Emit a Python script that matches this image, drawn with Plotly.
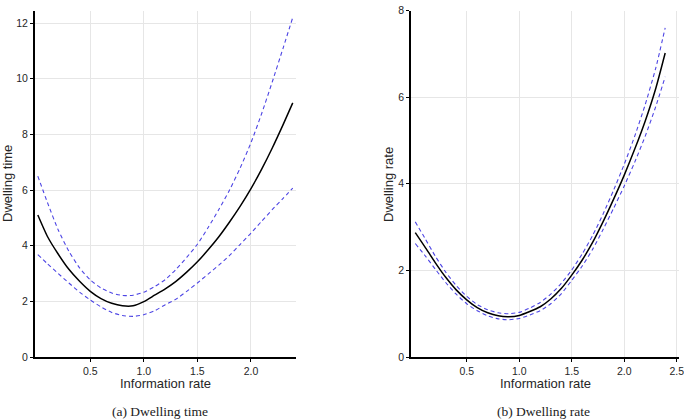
import plotly.graph_objects as go

# ---------------- data ----------------
x_rate = [0.01, 0.1, 0.2, 0.3, 0.4, 0.5, 0.6, 0.7, 0.8, 0.9, 1.0, 1.1, 1.2,
          1.3, 1.4, 1.5, 1.6, 1.7, 1.8, 1.9, 2.0, 2.1, 2.2, 2.3, 2.39]

time_est = [5.10, 4.33, 3.70, 3.15, 2.72, 2.36, 2.10, 1.93, 1.84, 1.84, 1.99,
            2.22, 2.45, 2.72, 3.05, 3.42, 3.85, 4.32, 4.85, 5.42, 6.05, 6.75,
            7.52, 8.35, 9.13]
time_upper = [6.50, 5.55, 4.57, 3.80, 3.20, 2.77, 2.48, 2.30, 2.21, 2.22, 2.33,
              2.53, 2.78, 3.15, 3.58, 4.05, 4.65, 5.30, 6.00, 6.80, 7.70, 8.75,
              9.90, 11.10, 12.20]
time_lower = [3.68, 3.35, 3.00, 2.66, 2.33, 2.05, 1.80, 1.60, 1.49, 1.46, 1.52,
              1.66, 1.88, 2.08, 2.36, 2.66, 2.98, 3.30, 3.65, 4.05, 4.45, 4.88,
              5.30, 5.70, 6.07]

rate_est = [2.87, 2.55, 2.18, 1.84, 1.55, 1.32, 1.14, 1.02, 0.95, 0.93, 0.96,
            1.05, 1.16, 1.34, 1.58, 1.89, 2.24, 2.65, 3.13, 3.65, 4.20, 4.80,
            5.45, 6.20, 7.02]
rate_upper = [3.12, 2.75, 2.33, 1.96, 1.65, 1.40, 1.21, 1.09, 1.02, 1.00, 1.03,
              1.13, 1.26, 1.45, 1.70, 2.01, 2.38, 2.81, 3.31, 3.86, 4.45, 5.10,
              5.83, 6.67, 7.60]
rate_lower = [2.62, 2.35, 2.03, 1.72, 1.45, 1.23, 1.07, 0.95, 0.88, 0.86, 0.89,
              0.97, 1.07, 1.23, 1.46, 1.77, 2.10, 2.49, 2.95, 3.44, 3.95, 4.50,
              5.10, 5.78, 6.47]

ticks_x_left = [0.5, 1.0, 1.5, 2.0]
ticks_x_right = [0.5, 1.0, 1.5, 2.0, 2.5]
ticks_y_left = [0, 2, 4, 6, 8, 10, 12]
ticks_y_right = [0, 2, 4, 6, 8]

# ---------------- styles ----------------
BLUE = "#4d45e4"
solid = dict(color="black", width=1.5, shape="spline", smoothing=0.6)
dashed = dict(color=BLUE, width=1.1, dash="4px,3px", shape="spline", smoothing=0.6)

fig = go.Figure()
for xa, ya, est, up, lo in [("x", "y", time_est, time_upper, time_lower),
                            ("x2", "y2", rate_est, rate_upper, rate_lower)]:
    fig.add_trace(go.Scatter(x=x_rate, y=up, mode="lines", line=dashed,
                             xaxis=xa, yaxis=ya, showlegend=False))
    fig.add_trace(go.Scatter(x=x_rate, y=lo, mode="lines", line=dashed,
                             xaxis=xa, yaxis=ya, showlegend=False))
    fig.add_trace(go.Scatter(x=x_rate, y=est, mode="lines", line=solid,
                             xaxis=xa, yaxis=ya, showlegend=False))

TICKFONT = dict(family="Liberation Sans, Arial, sans-serif", size=10.5, color="#262626")
axis_common = dict(showline=True, linecolor="black", linewidth=2,
                   ticks="outside", ticklen=3, tickwidth=1, tickcolor="black",
                   showgrid=True, gridcolor="#e6e6e6", gridwidth=1,
                   zeroline=False, tickfont=TICKFONT, mirror=False,
                   automargin=False, ticklabeloverflow="allow")

fig.update_layout(
    width=684, height=420,
    margin=dict(l=0, r=0, t=0, b=0, autoexpand=False),
    paper_bgcolor="white", plot_bgcolor="white",
    xaxis=dict(domain=[0.0512, 0.4327], range=[-0.016, 2.42], anchor="y",
               tickvals=ticks_x_left, ticktext=[f"{v:.1f}" for v in ticks_x_left],
               **axis_common),
    yaxis=dict(domain=[0.15, 0.975], range=[0, 12.45], anchor="x",
               tickvals=ticks_y_left, ticktext=[str(v) for v in ticks_y_left],
               **axis_common),
    xaxis2=dict(domain=[0.6013, 0.9923], range=[-0.028, 2.519], anchor="y2",
                tickvals=ticks_x_right, ticktext=[f"{v:.1f}" for v in ticks_x_right],
                **axis_common),
    yaxis2=dict(domain=[0.15, 0.975], range=[0, 8.0], anchor="x2",
                tickvals=ticks_y_right, ticktext=[str(v) for v in ticks_y_right],
                **axis_common),
)

TITLEFONT = dict(family="Liberation Sans, Arial, sans-serif", size=13, color="#262626")
CAPFONT = dict(family="Liberation Serif, Times New Roman, serif", size=13.5, color="#222222")

annots = [
    dict(text="Information rate", x=0.242, y=0.086, font=TITLEFONT),
    dict(text="Information rate", x=0.797, y=0.086, font=TITLEFONT),
    dict(text="Dwelling time", x=0.0117, y=0.562, textangle=-90, font=TITLEFONT),
    dict(text="Dwelling rate", x=0.5687, y=0.562, textangle=-90, font=TITLEFONT),
    dict(text="(a) Dwelling time", x=0.234, y=0.0214, font=CAPFONT),
    dict(text="(b) Dwelling rate", x=0.794, y=0.0214, font=CAPFONT),
]
for a in annots:
    fig.add_annotation(xref="paper", yref="paper", showarrow=False,
                       xanchor="center", yanchor="middle", **a)

fig.write_html("out.html")
